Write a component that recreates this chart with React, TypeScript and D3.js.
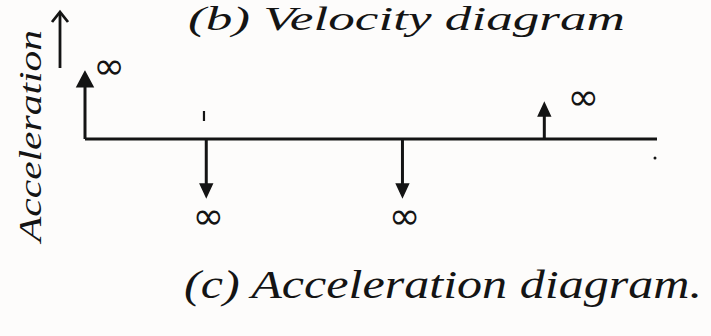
import React, { useEffect, useRef } from "react";
import * as d3 from "d3";

// impulses along the axis (x in arbitrary units, signed magnitude)
const positions = [0, 2.12, 5.55, 8.03];
const accel = [1.16, -1, -1, 0.62];
const impulseLabels = ["∞", "∞", "∞", "∞"];
const tickAt = [2.08];
const titleText = "(b)  Velocity diagram";
const captionText = "(c) Acceleration diagram.";
const yAxisLabel = "Acceleration";

const W = 711;
const H = 336;
const ink = "#141414";
const hand = "'Liberation Serif', 'DejaVu Serif', serif";

export default function App() {
  const ref = useRef<SVGSVGElement>(null);

  useEffect(() => {
    const svg = d3.select(ref.current);
    svg.selectAll("*").remove();

    const x = d3.scaleLinear().domain([0, 10]).range([85, 657]);
    const y = d3.scaleLinear().domain([-1, 1]).range([197, 81]);

    svg.append("rect").attr("width", W).attr("height", H).attr("fill", "#fdfcfb");

    // titles
    svg.append("text")
      .attr("x", 188).attr("y", 30)
      .attr("font-family", hand).attr("font-style", "italic")
      .attr("font-size", 34).attr("fill", ink)
      .attr("textLength", 437).attr("lengthAdjust", "spacingAndGlyphs")
      .text(titleText);

    svg.append("text")
      .attr("x", 184).attr("y", 298)
      .attr("font-family", hand).attr("font-style", "italic")
      .attr("font-size", 40).attr("fill", ink)
      .attr("textLength", 518).attr("lengthAdjust", "spacingAndGlyphs")
      .text(captionText);

    // y label + arrow
    svg.append("text")
      .attr("transform", "translate(41,242) rotate(-90)")
      .attr("font-family", hand).attr("font-style", "italic")
      .attr("font-size", 31).attr("fill", ink)
      .attr("textLength", 212).attr("lengthAdjust", "spacingAndGlyphs")
      .text(yAxisLabel);
    svg.append("line")
      .attr("x1", 60).attr("x2", 60).attr("y1", 68).attr("y2", 14)
      .attr("stroke", ink).attr("stroke-width", 2.8);
    svg.append("path")
      .attr("d", "M52,22 L60,12 L68,22")
      .attr("fill", "none").attr("stroke", ink).attr("stroke-width", 2.8);

    // baseline
    svg.append("line")
      .attr("x1", x(0)).attr("x2", x(10))
      .attr("y1", y(0)).attr("y2", y(0))
      .attr("stroke", ink).attr("stroke-width", 3);

    // small tick mark
    svg.selectAll(".tick").data(tickAt).join("line")
      .attr("class", "tick")
      .attr("x1", (d) => x(d)).attr("x2", (d) => x(d))
      .attr("y1", 111).attr("y2", 121)
      .attr("stroke", ink).attr("stroke-width", 2.2);

    const data = positions.map((p, i) => ({ p, a: accel[i], label: impulseLabels[i], i }));

    const g = svg.selectAll(".imp").data(data).join("g").attr("class", "imp");

    g.append("line")
      .attr("x1", (d) => x(d.p)).attr("x2", (d) => x(d.p))
      .attr("y1", y(0))
      .attr("y2", (d) => y(d.a) + (d.a > 0 ? 10 : -10))
      .attr("stroke", ink).attr("stroke-width", 3);

    g.append("path")
      .attr("d", (d) => {
        const cx = x(d.p);
        const ty = y(d.a);
        const s = d.a > 0 ? 1 : -1;
        const hw = d.i === 0 ? 8 : 6;
        const hl = d.i === 0 ? 15 : 13;
        return `M${cx},${ty} L${cx - hw},${ty + s * hl} L${cx + hw},${ty + s * hl} Z`;
      })
      .attr("fill", ink).attr("stroke", ink).attr("stroke-width", 1.5);

    g.append("text")
      .attr("x", (d) => x(d.p) + (d.a > 0 ? (d.i === 0 ? 24 : 39) : 2))
      .attr("y", (d) => (d.a > 0 ? y(d.a) + 7 : y(d.a) + 32))
      .attr("text-anchor", "middle")
      .attr("font-family", "'DejaVu Sans', sans-serif")
      .attr("font-size", 38).attr("fill", ink)
      .text((d) => d.label);

    // stray dot at the end of the axis
    svg.append("circle").attr("cx", 655).attr("cy", 158).attr("r", 1.5).attr("fill", ink);
  }, []);

  return (
    <svg
      ref={ref}
      width={W}
      height={H}
      style={{ position: "absolute", left: 0, top: 0, display: "block" }}
    />
  );
}
